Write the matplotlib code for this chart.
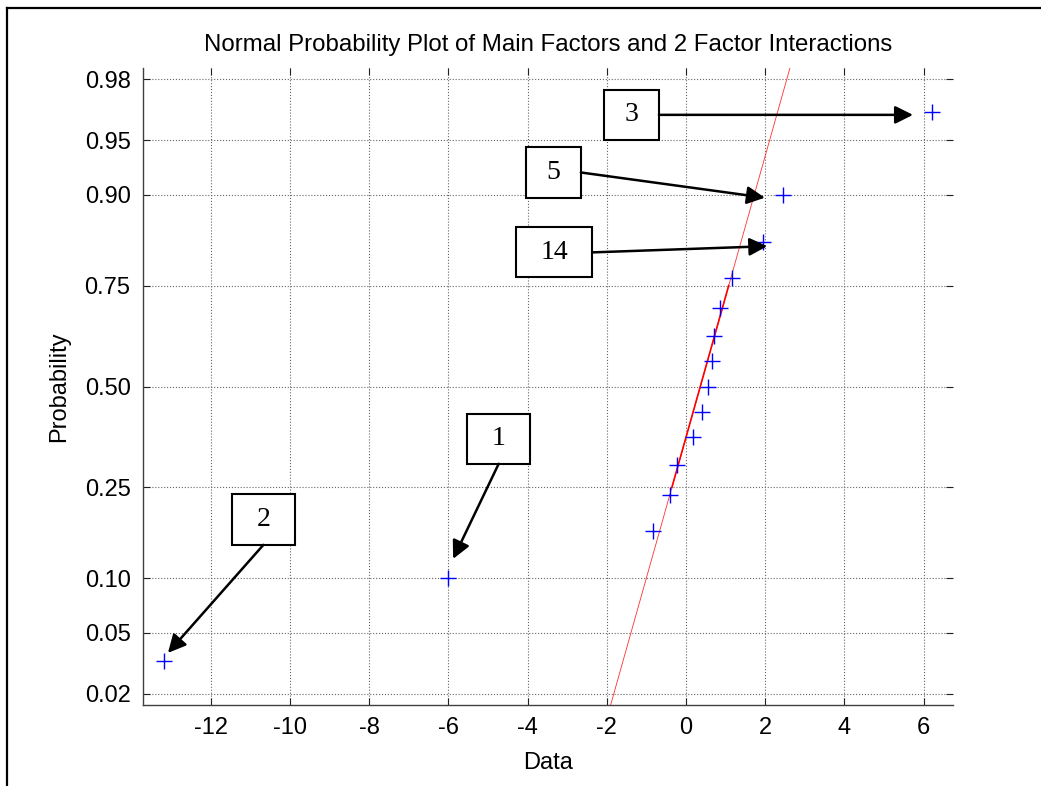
from statistics import NormalDist
import numpy as np
import matplotlib
matplotlib.use("Agg")
import matplotlib.pyplot as plt
from matplotlib.patches import Rectangle
from matplotlib.lines import Line2D

# effect estimates (sorted)
effects = [-13.19, -6.00, -0.83, -0.40, -0.23, 0.18, 0.41, 0.55,
           0.65, 0.71, 0.86, 1.15, 1.95, 2.46, 6.20]
prob_ticks = [0.02, 0.05, 0.10, 0.25, 0.50, 0.75, 0.90, 0.95, 0.98]
prob_labels = ["0.02", "0.05", "0.10", "0.25", "0.50", "0.75", "0.90", "0.95", "0.98"]
x_ticks = [-12, -10, -8, -6, -4, -2, 0, 2, 4, 6]

# labelled effects: label, index of effect in the sorted list
labels = ["3", "5", "14", "1", "2"]
label_idx = [14, 13, 12, 1, 0]

nd = NormalDist()
n = len(effects)
x = np.array(effects)
pp = [(i + 0.5) / n for i in range(n)]
z = np.array([nd.inv_cdf(p) for p in pp])

# reference line through quartiles (like normplot)
q1, q3 = np.percentile(x, [25, 75], method="hazen")
zq = nd.inv_cdf(0.75)
sig = (q3 - q1) / (2 * zq)
mu = (q1 + q3) / 2

plt.rcParams["font.family"] = ["Liberation Sans", "DejaVu Sans"]

fig = plt.figure(figsize=(10.41, 7.86), dpi=100)
ax = fig.add_axes([143 / 1041, 1 - 705 / 786, 810 / 1041, 637 / 786])

zlim = nd.inv_cdf(0.25 / n)
zz = np.array([zlim * 1.05, -zlim * 1.05])
ax.plot(mu + sig * zz, zz, color="#ff3030", lw=0.6)
ax.plot(mu + sig * np.array([-zq, zq]), [-zq, zq], color="r", lw=1.2)
ax.plot(x, z, ls="none", marker="+", color="#0000ff", ms=11, mew=1.0)

ax.set_xlim(-13.71, 6.74)
ax.set_ylim(zlim, -zlim)
ax.set_xticks(x_ticks)
ax.set_xticklabels([str(t) for t in x_ticks])
ax.set_yticks([nd.inv_cdf(p) for p in prob_ticks])
ax.set_yticklabels(prob_labels)
ax.tick_params(direction="in", length=5, width=0.8, labelsize=17, pad=9,
               top=True, right=True, colors="#222222", labelcolor="k")
ax.grid(True, ls=":", color="#666666", lw=0.8)
for s in ["top", "right"]:
    ax.spines[s].set_visible(False)
for s in ["left", "bottom"]:
    ax.spines[s].set_color("#404040")
    ax.spines[s].set_linewidth(1.0)

ax.set_title("Normal Probability Plot of Main Factors and 2 Factor Interactions",
             fontsize=17.3, pad=12)
ax.set_xlabel("Data", fontsize=17, labelpad=9)
ax.set_ylabel("Probability", fontsize=17, labelpad=10)

# text boxes: centre (data), size (data units), arrow start side, tip offset
boxes = [
    (-1.38, 1.815, 1.39, 0.333, "right", (-0.47, -0.019)),
    (-3.35, 1.43, 1.39, 0.340, "right", (-0.47, -0.02)),
    (-3.33, 0.896, 1.92, 0.333, "right", (0.10, -0.03)),
    (-4.73, -0.35, 1.59, 0.333, "bottom", (0.12, 0.13)),
    (-10.67, -0.888, 1.59, 0.340, "bottom", (0.11, 0.054)),
]
for lab, k, (cx, cz, w, h, side, off) in zip(labels, label_idx, boxes):
    ax.add_patch(Rectangle((cx - w / 2, cz - h / 2), w, h, fc="white",
                           ec="k", lw=1.5, zorder=5))
    ax.text(cx, cz, lab, ha="center", va="center", fontsize=20,
            family=["Liberation Serif", "DejaVu Serif"], zorder=6)
    start = (cx + w / 2, cz) if side == "right" else (cx, cz - h / 2)
    tip = (x[k] + off[0], z[k] + off[1])
    ax.annotate("", xy=tip, xytext=start, zorder=6,
                arrowprops=dict(arrowstyle="-|>", color="k", lw=1.8,
                                mutation_scale=27, shrinkA=0, shrinkB=0))

# figure frame (left and top edges only visible)
fig.add_artist(Line2D([7 / 1041, 7 / 1041], [0, 1 - 8 / 786], color="k", lw=1.6))
fig.add_artist(Line2D([7 / 1041, 1], [1 - 8 / 786, 1 - 8 / 786], color="k", lw=1.6))

fig.savefig("out.png", dpi=100)
